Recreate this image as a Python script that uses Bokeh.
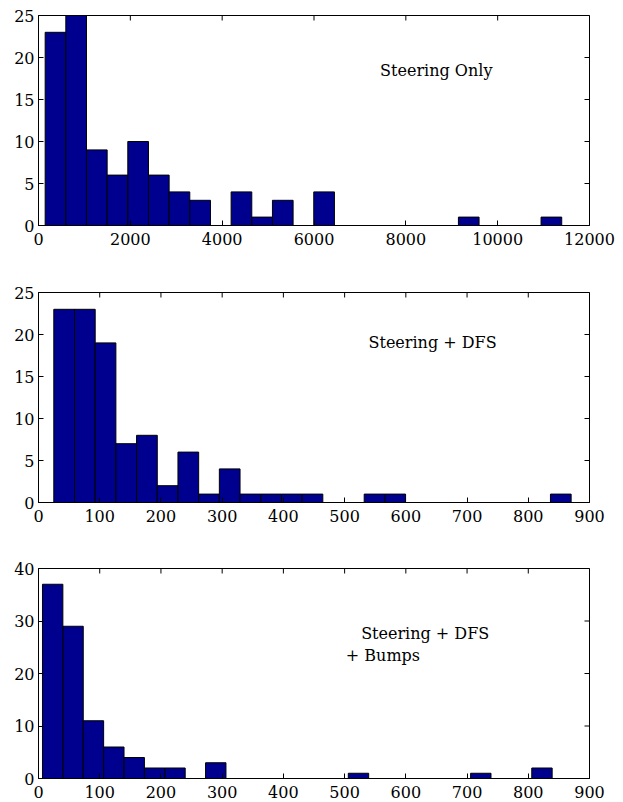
import math
from bokeh.plotting import figure
from bokeh.layouts import column
from bokeh.models import FixedTicker, Range1d, Label
from bokeh.embed import file_html
from bokeh.resources import INLINE

# ---- data (histogram counts, 25 bins each) ----
steer_counts = [23, 25, 9, 6, 10, 6, 4, 3, 0, 4, 1, 3, 0, 4, 0, 0, 0, 0, 0, 0, 1, 0, 0, 0, 1]
steer_bin_start = 145
steer_bin_width = 450
steer_xticks = [0, 2000, 4000, 6000, 8000, 10000, 12000]
steer_yticks = [0, 5, 10, 15, 20, 25]

dfs_counts = [23, 23, 19, 7, 8, 2, 6, 1, 4, 1, 1, 1, 1, 0, 0, 1, 1, 0, 0, 0, 0, 0, 0, 0, 1]
dfs_bin_start = 25
dfs_bin_width = 33.8
dfs_xticks = [0, 100, 200, 300, 400, 500, 600, 700, 800, 900]
dfs_yticks = [0, 5, 10, 15, 20, 25]

bumps_counts = [37, 29, 11, 6, 4, 2, 2, 0, 3, 0, 0, 0, 0, 0, 0, 1, 0, 0, 0, 0, 0, 1, 0, 0, 2]
bumps_bin_start = 6.5
bumps_bin_width = 33.3
bumps_xticks = [0, 100, 200, 300, 400, 500, 600, 700, 800, 900]
bumps_yticks = [0, 10, 20, 30, 40]

FONT = "DejaVu Serif"
FS = "16px"
BAR = "#00008F"


def make_panel(counts, start, width, xmax, ymax, xticks, yticks, height,
               top_border, bottom_border, labels):
    lefts = [start + i * width for i in range(len(counts))]
    rights = [l + width for l in lefts]
    p = figure(width=623, height=height, output_backend="svg", toolbar_location=None,
               x_range=Range1d(0, xmax), y_range=Range1d(0, ymax),
               min_border_left=38, min_border_right=34,
               min_border_top=top_border, min_border_bottom=bottom_border)
    p.quad(left=lefts, right=rights, bottom=0, top=counts,
           fill_color=BAR, line_color="black", line_width=1)
    p.xgrid.visible = False
    p.ygrid.visible = False
    p.outline_line_color = "black"
    p.outline_line_width = 1
    p.background_fill_color = "white"
    p.border_fill_color = "white"

    for ax in p.xaxis:
        ax.ticker = FixedTicker(ticks=xticks)
        ax.major_label_standoff = 7
    for ax in p.yaxis:
        ax.ticker = FixedTicker(ticks=yticks)
        ax.major_label_standoff = 4
    for ax in p.xaxis + p.yaxis:
        ax.major_tick_in = 5
        ax.major_tick_out = 0
        ax.minor_tick_line_color = None
        ax.axis_line_color = "black"
        ax.major_tick_line_color = "black"
        ax.major_label_text_font = FONT
        ax.major_label_text_font_size = FS
        ax.major_label_text_color = "black"

    # mirrored inward ticks on the top and right edges (clipped to the frame)
    p.scatter(x=xticks, y=[ymax] * len(xticks), marker="dash", size=10,
              angle=math.pi / 2, line_color="black", line_width=1)
    p.scatter(x=[xmax] * len(yticks), y=yticks, marker="dash", size=10,
              line_color="black", line_width=1)

    for (tx, ty, txt) in labels:
        p.add_layout(Label(x=tx, y=ty, text=txt, text_font=FONT, text_font_size=FS,
                           text_color="black", text_baseline="alphabetic", text_align="left"))
    return p


p1 = make_panel(steer_counts, steer_bin_start, steer_bin_width, 12000, 25,
                steer_xticks, steer_yticks, 277, 15, 52,
                [(7440, 18.4, "Steering Only")])
p2 = make_panel(dfs_counts, dfs_bin_start, dfs_bin_width, 900, 25,
                dfs_xticks, dfs_yticks, 277, 15, 52,
                [(539, 19.1, "Steering + DFS")])
p3 = make_panel(bumps_counts, bumps_bin_start, bumps_bin_width, 900, 40,
                bumps_xticks, bumps_yticks, 248, 14, 24,
                [(527, 27.6, "Steering + DFS"), (502, 23.4, "+ Bumps")])

layout = column(p1, p2, p3, spacing=0)

with open("out.html", "w") as f:
    f.write(file_html(layout, INLINE))
